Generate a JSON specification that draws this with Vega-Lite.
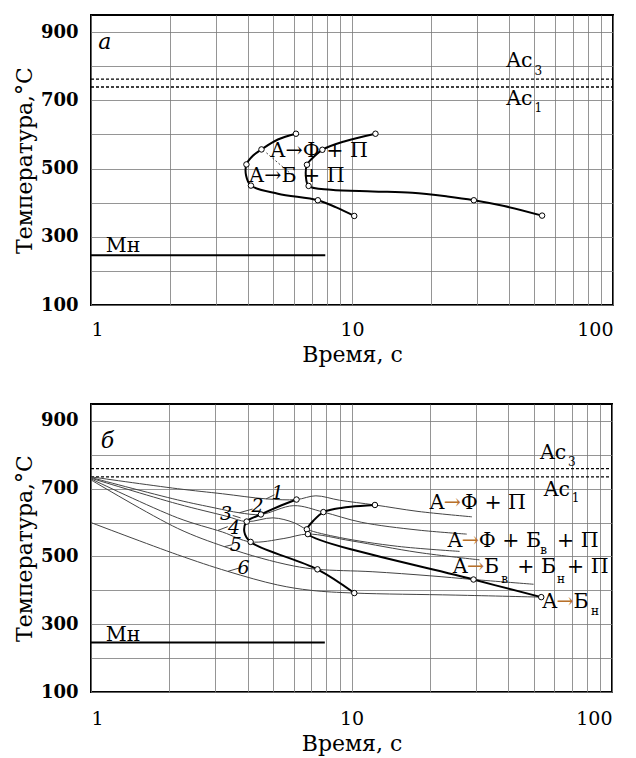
{
"$schema": "https://vega.github.io/schema/vega-lite/v6.json",
"padding": {"left": 12, "top": 14, "right": 15, "bottom": 2},
"background": "white",
"spacing": 37,
"config": {
  "font": "DejaVu Serif",
  "view": {"stroke": "black", "strokeWidth": 2},
  "axis": {"grid": true, "gridColor": "#7a7a7a", "gridWidth": 0.8, "domain": false, "ticks": false,
           "labelFont": "DejaVu Serif", "titleFont": "DejaVu Serif", "labelColor": "black", "titleColor": "black",
           "titleFontWeight": "normal", "labelOverlap": false, "labelBound": false}
},
"datasets": {
  "acA": [{"t": 1, "t2": 100, "T": 762}, {"t": 1, "t2": 100, "T": 739}],
  "acB": [{"t": 1, "t2": 100, "T": 759}, {"t": 1, "t2": 100, "T": 735}],
  "ms": [{"t": 1, "t2": 7.9, "T": 246}],
  "curvesA": [
    {"c": "s", "i": 1, "t": 6.1, "T": 602, "p": 1},
    {"c": "s", "i": 2, "t": 5.2, "T": 585, "p": 0},
    {"c": "s", "i": 3, "t": 4.5, "T": 556, "p": 1},
    {"c": "s", "i": 4, "t": 4.18, "T": 538, "p": 0},
    {"c": "s", "i": 5, "t": 3.94, "T": 512, "p": 1},
    {"c": "s", "i": 6, "t": 3.93, "T": 479, "p": 0},
    {"c": "s", "i": 7, "t": 4.1, "T": 450, "p": 1},
    {"c": "s", "i": 8, "t": 5.2, "T": 426, "p": 0},
    {"c": "s", "i": 9, "t": 7.4, "T": 407, "p": 1},
    {"c": "s", "i": 10, "t": 8.7, "T": 386, "p": 0},
    {"c": "s", "i": 11, "t": 10.2, "T": 361, "p": 1},
    {"c": "e", "i": 1, "t": 12.3, "T": 602, "p": 1},
    {"c": "e", "i": 2, "t": 9.4, "T": 580, "p": 0},
    {"c": "e", "i": 3, "t": 7.7, "T": 555, "p": 1},
    {"c": "e", "i": 4, "t": 7.0, "T": 528, "p": 0},
    {"c": "e", "i": 5, "t": 6.72, "T": 511, "p": 1},
    {"c": "e", "i": 6, "t": 6.66, "T": 476, "p": 0},
    {"c": "e", "i": 7, "t": 6.82, "T": 449, "p": 1},
    {"c": "e", "i": 8, "t": 8.3, "T": 438, "p": 0},
    {"c": "e", "i": 9, "t": 12, "T": 433, "p": 0},
    {"c": "e", "i": 10, "t": 17, "T": 429, "p": 0},
    {"c": "e", "i": 11, "t": 23.2, "T": 418, "p": 0},
    {"c": "e", "i": 12, "t": 29.3, "T": 407, "p": 1},
    {"c": "e", "i": 13, "t": 38.3, "T": 390, "p": 0},
    {"c": "e", "i": 14, "t": 53.5, "T": 362, "p": 1}
  ],
  "dashA": [{"t": 4.7, "T": 546, "t2": 5.9, "T2": 481}],
  "textA": [
    {"t": 4.85, "T": 550, "txt": "А→Ф + П", "k": "m"},
    {"t": 4.02, "T": 478, "txt": "А→Б + П", "k": "m"},
    {"t": 39, "T": 816, "txt": "Ac", "k": "m"},
    {"t": 39, "T": 705, "txt": "Ac", "k": "m"},
    {"t": 1.14, "T": 272, "txt": "Мн", "k": "m"},
    {"t": 50, "T": 786, "txt": "3", "k": "s"},
    {"t": 50, "T": 676, "txt": "1", "k": "s"},
    {"t": 1.065, "T": 872, "txt": "а", "k": "i"}
  ],
  "curvesB": [
    {"c": "s", "i": 1, "t": 6.15, "T": 668, "p": 1},
    {"c": "s", "i": 2, "t": 5.2, "T": 646, "p": 0},
    {"c": "s", "i": 3, "t": 4.49, "T": 624, "p": 1},
    {"c": "s", "i": 4, "t": 3.96, "T": 603, "p": 1},
    {"c": "s", "i": 5, "t": 3.88, "T": 572, "p": 0},
    {"c": "s", "i": 6, "t": 4.1, "T": 543, "p": 1},
    {"c": "s", "i": 7, "t": 7.4, "T": 462, "p": 1},
    {"c": "s", "i": 8, "t": 10.25, "T": 392, "p": 1},
    {"c": "e", "i": 1, "t": 12.3, "T": 652, "p": 1},
    {"c": "e", "i": 2, "t": 9.93, "T": 647, "p": 0},
    {"c": "e", "i": 3, "t": 8.58, "T": 640, "p": 0},
    {"c": "e", "i": 4, "t": 7.8, "T": 631, "p": 1},
    {"c": "e", "i": 5, "t": 7.19, "T": 608, "p": 0},
    {"c": "e", "i": 6, "t": 6.74, "T": 580, "p": 1},
    {"c": "e", "i": 7, "t": 6.8, "T": 566, "p": 1},
    {"c": "e", "i": 8, "t": 29.4, "T": 432, "p": 1},
    {"c": "e", "i": 9, "t": 53.5, "T": 380, "p": 1}
  ],
  "coolB": [
    {"c": "1", "i": 1, "t": 1, "T": 735}, {"c": "1", "i": 2, "t": 2.15, "T": 700}, {"c": "1", "i": 3, "t": 3.2, "T": 685},
    {"c": "1", "i": 4, "t": 4.7, "T": 670}, {"c": "1", "i": 5, "t": 6.15, "T": 668}, {"c": "1", "i": 6, "t": 7.3, "T": 679},
    {"c": "1", "i": 7, "t": 9, "T": 666}, {"c": "1", "i": 8, "t": 12.3, "T": 652}, {"c": "1", "i": 9, "t": 18, "T": 633},
    {"c": "1", "i": 10, "t": 29, "T": 617},
    {"c": "2", "i": 1, "t": 1, "T": 733}, {"c": "2", "i": 2, "t": 2.15, "T": 667}, {"c": "2", "i": 3, "t": 3.0, "T": 643},
    {"c": "2", "i": 4, "t": 3.71, "T": 629}, {"c": "2", "i": 5, "t": 4.49, "T": 624}, {"c": "2", "i": 6, "t": 6.0, "T": 650},
    {"c": "2", "i": 7, "t": 7.8, "T": 631}, {"c": "2", "i": 8, "t": 10.9, "T": 601}, {"c": "2", "i": 9, "t": 18, "T": 578},
    {"c": "2", "i": 10, "t": 27.7, "T": 566},
    {"c": "3", "i": 1, "t": 1, "T": 731}, {"c": "3", "i": 2, "t": 2.15, "T": 655}, {"c": "3", "i": 3, "t": 3.3, "T": 619},
    {"c": "3", "i": 4, "t": 3.96, "T": 603}, {"c": "3", "i": 5, "t": 5.0, "T": 614}, {"c": "3", "i": 6, "t": 6.0, "T": 600},
    {"c": "3", "i": 7, "t": 6.74, "T": 580}, {"c": "3", "i": 8, "t": 9, "T": 556}, {"c": "3", "i": 9, "t": 15, "T": 530},
    {"c": "3", "i": 10, "t": 26, "T": 515},
    {"c": "4", "i": 1, "t": 1, "T": 729}, {"c": "4", "i": 2, "t": 2.15, "T": 614}, {"c": "4", "i": 3, "t": 3.2, "T": 572},
    {"c": "4", "i": 4, "t": 4.1, "T": 543}, {"c": "4", "i": 5, "t": 5.5, "T": 553}, {"c": "4", "i": 6, "t": 6.8, "T": 566},
    {"c": "4", "i": 7, "t": 10, "T": 546}, {"c": "4", "i": 8, "t": 18, "T": 512}, {"c": "4", "i": 9, "t": 31, "T": 490},
    {"c": "5", "i": 1, "t": 1, "T": 726}, {"c": "5", "i": 2, "t": 2.15, "T": 583}, {"c": "5", "i": 3, "t": 3.25, "T": 529},
    {"c": "5", "i": 4, "t": 4.5, "T": 495}, {"c": "5", "i": 5, "t": 6, "T": 472}, {"c": "5", "i": 6, "t": 7.4, "T": 462},
    {"c": "5", "i": 7, "t": 12, "T": 455}, {"c": "5", "i": 8, "t": 20, "T": 443}, {"c": "5", "i": 9, "t": 29.4, "T": 432},
    {"c": "5", "i": 10, "t": 50, "T": 418},
    {"c": "6", "i": 1, "t": 1, "T": 600}, {"c": "6", "i": 2, "t": 2.15, "T": 505}, {"c": "6", "i": 3, "t": 3.35, "T": 456},
    {"c": "6", "i": 4, "t": 5.2, "T": 416}, {"c": "6", "i": 5, "t": 7, "T": 400}, {"c": "6", "i": 6, "t": 10.25, "T": 392},
    {"c": "6", "i": 7, "t": 25, "T": 386}, {"c": "6", "i": 8, "t": 53.5, "T": 380}
  ],
  "leadB": [
    {"t": 4.7, "T": 670, "t2": 5.06, "T2": 682},
    {"t": 3.71, "T": 629, "t2": 4.17, "T2": 640},
    {"t": 3.5, "T": 621, "t2": 3.75, "T2": 614},
    {"t": 3.07, "T": 577, "t2": 3.35, "T2": 588},
    {"t": 3.25, "T": 529, "t2": 3.5, "T2": 535},
    {"t": 3.35, "T": 456, "t2": 3.71, "T2": 466}
  ],
  "textB": [
    {"t": 19.9, "T": 658, "txt": "Ф + П", "k": "r"},
    {"t": 23.3, "T": 546, "txt": "Ф + Б", "k": "r"},
    {"t": 24.4, "T": 470, "txt": "Б", "k": "r"},
    {"t": 53.9, "T": 367, "txt": "Б", "k": "r"},
    {"t": 52.9, "T": 806, "txt": "Ac", "k": "m"},
    {"t": 54.7, "T": 696, "txt": "Ac", "k": "m"},
    {"t": 61.5, "T": 546, "txt": "+ П", "k": "m"},
    {"t": 43.3, "T": 470, "txt": "+ Б", "k": "m"},
    {"t": 67.2, "T": 470, "txt": "+ П", "k": "m"},
    {"t": 1.14, "T": 268, "txt": "Мн", "k": "m"},
    {"t": 67.8, "T": 780, "txt": "3", "k": "s"},
    {"t": 70, "T": 672, "txt": "1", "k": "s"},
    {"t": 53, "T": 518, "txt": "в", "k": "s"},
    {"t": 37.6, "T": 433, "txt": "в", "k": "s"},
    {"t": 61.5, "T": 434, "txt": "н", "k": "s"},
    {"t": 83, "T": 338, "txt": "н", "k": "s"},
    {"t": 1.09, "T": 842, "txt": "б", "k": "i"},
    {"t": 5.2, "T": 688, "txt": "1", "k": "n"},
    {"t": 4.36, "T": 648, "txt": "2", "k": "n"},
    {"t": 3.3, "T": 625, "txt": "3", "k": "n"},
    {"t": 3.54, "T": 583, "txt": "4", "k": "n"},
    {"t": 3.6, "T": 535, "txt": "5", "k": "n"},
    {"t": 3.85, "T": 466, "txt": "6", "k": "n"}
  ]
},
"vconcat": [
  {
    "width": 522, "height": 290,
    "encoding": {
      "x": {"field": "t", "type": "quantitative", "scale": {"type": "log", "domain": [1, 100]},
            "axis": {"title": "Время, с", "values": [1,2,3,4,5,6,7,8,9,10,20,30,40,50,60,70,80,90,100],
                     "labelExpr": "datum.value == 1 || datum.value == 10 || datum.value == 100 ? datum.label : ''",
                     "format": "d", "labelFontSize": 19, "titleFontSize": 22, "labelPadding": 15, "titlePadding": 5}},
      "y": {"field": "T", "type": "quantitative", "scale": {"domain": [100, 950], "nice": false, "zero": false},
            "axis": {"title": "Температура,°С", "values": [100,200,300,400,500,600,700,800,900],
                     "labelExpr": "datum.value % 200 == 100 ? datum.label : ''",
                     "labelFontSize": 18, "labelFontWeight": "bold", "titleFontSize": 22, "labelPadding": 13, "titlePadding": 4}}
    },
    "layer": [
      {"data": {"name": "acA"}, "mark": {"type": "rule", "strokeDash": [3, 2], "strokeWidth": 1.3, "color": "black"},
       "encoding": {"x2": {"field": "t2"}}},
      {"data": {"name": "ms"}, "mark": {"type": "rule", "strokeWidth": 2, "color": "black"},
       "encoding": {"x2": {"field": "t2"}}},
      {"data": {"name": "dashA"}, "mark": {"type": "rule", "strokeDash": [2, 2], "strokeWidth": 0.9, "color": "#333"},
       "encoding": {"x2": {"field": "t2"}, "y2": {"field": "T2"}}},
      {"data": {"name": "curvesA"}, "mark": {"type": "line", "interpolate": "catmull-rom", "strokeWidth": 2, "color": "black"},
       "encoding": {"detail": {"field": "c"}, "order": {"field": "i", "type": "quantitative"}}},
      {"data": {"name": "curvesA"}, "transform": [{"filter": "datum.p == 1"}],
       "mark": {"type": "point", "filled": true, "fill": "white", "stroke": "black", "strokeWidth": 1, "size": 30, "opacity": 1}},
      {"data": {"name": "textA"}, "transform": [{"filter": "datum.k == 'm'"}],
       "mark": {"type": "text", "align": "left", "baseline": "middle", "fontSize": 20.5, "color": "black"},
       "encoding": {"text": {"field": "txt"}}},
      {"data": {"name": "textA"}, "transform": [{"filter": "datum.k == 's'"}],
       "mark": {"type": "text", "align": "left", "baseline": "middle", "fontSize": 12, "color": "black"},
       "encoding": {"text": {"field": "txt"}}},
      {"data": {"name": "textA"}, "transform": [{"filter": "datum.k == 'i'"}],
       "mark": {"type": "text", "align": "left", "baseline": "middle", "fontSize": 22, "fontStyle": "italic", "color": "black"},
       "encoding": {"text": {"field": "txt"}}}
    ]
  },
  {
    "width": 521, "height": 288,
    "encoding": {
      "x": {"field": "t", "type": "quantitative", "scale": {"type": "log", "domain": [1, 100]},
            "axis": {"title": "Время, с", "values": [1,2,3,4,5,6,7,8,9,10,20,30,40,50,60,70,80,90,100],
                     "labelExpr": "datum.value == 1 || datum.value == 10 || datum.value == 100 ? datum.label : ''",
                     "format": "d", "labelFontSize": 19, "titleFontSize": 22, "labelPadding": 17, "titlePadding": 5}},
      "y": {"field": "T", "type": "quantitative", "scale": {"domain": [100, 950], "nice": false, "zero": false},
            "axis": {"title": "Температура,°С", "values": [100,200,300,400,500,600,700,800,900],
                     "labelExpr": "datum.value % 200 == 100 ? datum.label : ''",
                     "labelFontSize": 18, "labelFontWeight": "bold", "titleFontSize": 22, "labelPadding": 13, "titlePadding": 4}}
    },
    "layer": [
      {"data": {"name": "acB"}, "mark": {"type": "rule", "strokeDash": [3, 2], "strokeWidth": 1.3, "color": "black"},
       "encoding": {"x2": {"field": "t2"}}},
      {"data": {"name": "ms"}, "mark": {"type": "rule", "strokeWidth": 2, "color": "black"},
       "encoding": {"x2": {"field": "t2"}}},
      {"data": {"name": "coolB"}, "mark": {"type": "line", "interpolate": "catmull-rom", "strokeWidth": 1, "color": "#444"},
       "encoding": {"detail": {"field": "c"}, "order": {"field": "i", "type": "quantitative"}}},
      {"data": {"name": "leadB"}, "mark": {"type": "rule", "strokeWidth": 0.9, "color": "#333"},
       "encoding": {"x2": {"field": "t2"}, "y2": {"field": "T2"}}},
      {"data": {"name": "curvesB"}, "mark": {"type": "line", "interpolate": "catmull-rom", "strokeWidth": 2, "color": "black"},
       "encoding": {"detail": {"field": "c"}, "order": {"field": "i", "type": "quantitative"}}},
      {"data": {"name": "curvesB"}, "transform": [{"filter": "datum.p == 1"}],
       "mark": {"type": "point", "filled": true, "fill": "white", "stroke": "black", "strokeWidth": 1, "size": 30, "opacity": 1}},
      {"data": {"name": "textB"}, "transform": [{"filter": "datum.k == 'r'"}],
       "mark": {"type": "text", "text": "А", "align": "left", "baseline": "middle", "fontSize": 20.5, "color": "black"}},
      {"data": {"name": "textB"}, "transform": [{"filter": "datum.k == 'r'"}],
       "mark": {"type": "text", "text": "→", "align": "left", "baseline": "middle", "fontSize": 20.5, "dx": 14.5, "color": "#b8702a"}},
      {"data": {"name": "textB"}, "transform": [{"filter": "datum.k == 'r'"}],
       "mark": {"type": "text", "align": "left", "baseline": "middle", "fontSize": 20.5, "dx": 31.5, "color": "black"},
       "encoding": {"text": {"field": "txt"}}},
      {"data": {"name": "textB"}, "transform": [{"filter": "datum.k == 'm'"}],
       "mark": {"type": "text", "align": "left", "baseline": "middle", "fontSize": 20.5, "color": "black"},
       "encoding": {"text": {"field": "txt"}}},
      {"data": {"name": "textB"}, "transform": [{"filter": "datum.k == 's'"}],
       "mark": {"type": "text", "align": "left", "baseline": "middle", "fontSize": 12, "color": "black"},
       "encoding": {"text": {"field": "txt"}}},
      {"data": {"name": "textB"}, "transform": [{"filter": "datum.k == 'i'"}],
       "mark": {"type": "text", "align": "left", "baseline": "middle", "fontSize": 22, "fontStyle": "italic", "color": "black"},
       "encoding": {"text": {"field": "txt"}}},
      {"data": {"name": "textB"}, "transform": [{"filter": "datum.k == 'n'"}],
       "mark": {"type": "text", "align": "center", "baseline": "middle", "fontSize": 19, "fontStyle": "italic", "color": "black"},
       "encoding": {"text": {"field": "txt"}}}
    ]
  }
]
}
